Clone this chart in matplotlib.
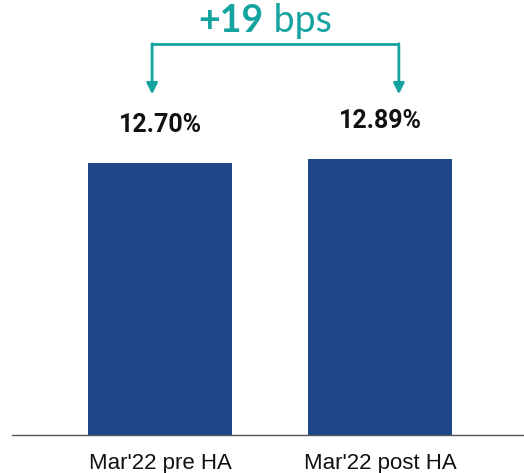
import matplotlib.pyplot as plt

categories = ["Mar'22 pre HA", "Mar'22 post HA"]
values = [12.70, 12.89]
value_labels = ["12.70%", "12.89%"]
delta_bold = "+19"
delta_unit = "bps"

bar_color = '#1f4687'
teal = '#15a3a0'

fig = plt.figure(figsize=(5.24, 4.73), dpi=100)
ax = fig.add_axes([12 / 524, (473 - 435) / 473, 512 / 524, 435 / 473])

x = range(len(categories))
ax.bar(x, values, width=0.655, color=bar_color)
ax.set_xlim(-0.673, 1.655)
ax.set_ylim(0, 20.3)

for xi, v, lab in zip(x, values, value_labels):
    ax.text(xi, v + 1.45, lab, ha='center', va='baseline', fontsize=18,
            fontweight='bold', family='Roboto', color='#111111')

ax.set_xticks(list(x))
ax.set_xticklabels(categories, fontsize=16, family='Liberation Sans', color='#111111')
ax.tick_params(axis='x', length=0, pad=13)
ax.set_yticks([])
for s in ['top', 'right', 'left']:
    ax.spines[s].set_visible(False)
ax.spines['bottom'].set_color('#555555')
ax.spines['bottom'].set_linewidth(1)

# bracket with arrows
yb = 18.26
ax.plot([-0.036, 1.086], [yb, yb], color=teal, lw=2, solid_capstyle='butt')
for xi in [-0.036, 1.086]:
    ax.annotate('', xy=(xi, 15.9), xytext=(xi, yb),
                arrowprops=dict(arrowstyle='-|>', color=teal, lw=2,
                                mutation_scale=16, shrinkA=0, shrinkB=0))

# delta text
t1 = fig.text(0, 0, delta_bold, fontsize=27, fontweight='bold', family='Lato', color=teal)
t2 = fig.text(0, 0, ' ' + delta_unit, fontsize=27, fontweight='normal', family='Lato', color=teal)
fig.canvas.draw()
r = fig.canvas.get_renderer()
w1 = t1.get_window_extent(r).width
w2 = t2.get_window_extent(r).width
cx = 265
ybase = 1 - 32 / 473
x0 = (cx - (w1 + w2) / 2) / 524
t1.set_position((x0, ybase))
t2.set_position((x0 + w1 / 524, ybase))
t1.set_va('baseline')
t2.set_va('baseline')

fig.savefig('out.png', dpi=100)
